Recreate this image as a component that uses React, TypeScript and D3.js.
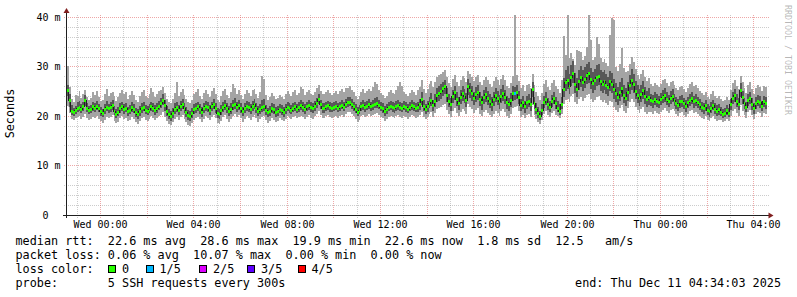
import React from 'react';
import * as d3 from 'd3';

// ---------------- data ----------------
const graphStart = Date.UTC(2025, 11, 9, 22, 34, 3);
const graphEnd = Date.UTC(2025, 11, 11, 4, 34, 3);
const firstSample = Date.UTC(2025, 11, 9, 22, 35, 0);
const stepSeconds = 300;

const rttMedian = [
  25.3, 23.3, 21.0, 20.8, 21.1, 21.6, 21.8, 21.4, 21.9, 23.2, 21.6, 21.2,
  21.4, 21.9, 21.5, 22.0, 21.6, 20.9, 20.6, 21.3, 21.8, 21.5, 21.7, 22.1,
  21.0, 20.4, 20.8, 21.5, 21.9, 21.3, 21.6, 20.9, 21.2, 21.7, 21.4, 20.7,
  20.3, 20.9, 21.5, 21.8, 21.2, 21.0, 21.4, 21.9, 21.6, 21.1, 21.5, 22.0,
  22.6, 23.3, 22.1, 21.0, 20.3, 19.9, 20.6, 21.4, 21.8, 21.2, 21.9, 22.3,
  21.5, 20.8, 20.1, 19.9, 20.5, 21.3, 21.6, 21.9, 21.4, 20.8, 21.5, 22.0,
  21.7, 21.2, 21.9, 22.3, 21.6, 20.6, 20.3, 21.1, 21.8, 22.2, 21.5, 20.9,
  21.4, 22.1, 22.4, 21.8, 22.2, 21.6, 20.9, 21.5, 22.0, 21.7, 21.3, 21.9,
  22.3, 21.6, 20.9, 21.4, 21.8, 22.0, 21.2, 20.7, 21.0, 21.6, 21.3, 20.8,
  20.9, 21.4, 21.1, 20.7, 21.3, 21.8, 21.5, 21.2, 21.6, 21.9, 21.4, 21.7,
  22.1, 21.8, 21.4, 21.9, 22.2, 21.7, 21.5, 22.0, 22.6, 23.4, 22.3, 21.6,
  21.5, 21.9, 22.1, 21.7, 21.6, 21.8, 22.0, 21.6, 21.9, 22.2, 21.8, 22.4,
  22.7, 22.8, 22.3, 21.9, 21.4, 20.8, 21.2, 21.9, 22.1, 21.7, 22.0, 22.3,
  21.9, 22.1, 22.4, 22.5, 22.2, 21.8, 21.5, 20.9, 21.3, 21.8, 22.0, 21.7,
  21.5, 21.9, 22.1, 21.8, 21.6, 22.0, 21.7, 21.4, 21.8, 22.1, 21.9, 21.6,
  21.8, 22.3, 23.5, 22.0, 21.3, 21.9, 22.6, 23.2, 22.1, 23.0, 24.2, 24.6,
  25.1, 25.6, 26.0, 24.3, 23.1, 22.4, 24.0, 24.8, 23.5, 22.6, 23.9, 24.7,
  24.1, 23.3, 26.0, 25.2, 24.7, 23.6, 24.5, 24.9, 23.4, 22.7, 23.8, 24.4,
  23.6, 23.0, 22.4, 23.5, 24.2, 23.7, 22.9, 24.1, 24.7, 23.8, 22.8, 22.3,
  23.2, 24.6, 24.6, 24.9, 23.8, 22.2, 22.7, 21.9, 22.8, 23.1, 22.3, 25.4,
  22.6, 21.4, 20.5, 19.9, 21.2, 22.7, 23.5, 22.4, 21.8, 22.9, 23.6, 22.5,
  21.6, 21.0, 22.3, 25.4, 26.8, 27.3, 26.1, 27.9, 28.6, 26.4, 25.5, 27.0,
  27.8, 26.9, 27.5, 28.3, 28.6, 27.4, 26.6, 27.2, 27.9, 28.1, 27.0, 26.5,
  27.1, 26.3, 25.9, 27.0, 26.5, 25.4, 24.6, 23.8, 24.9, 25.6, 24.2, 23.6,
  24.8, 26.2, 27.2, 26.4, 25.1, 24.3, 23.6, 24.5, 25.2, 24.0, 23.4, 23.9,
  23.2, 22.9, 23.5, 23.1, 22.8, 23.4, 23.9, 24.2, 23.5, 23.0, 23.7, 24.0,
  23.3, 22.6, 22.2, 22.9, 23.1, 22.5, 22.0, 22.7, 23.3, 23.6, 22.9, 23.2,
  22.8, 22.3, 21.8, 21.5, 22.1, 21.2, 20.9, 21.6, 22.2, 21.4, 21.0, 21.3,
  20.8, 20.4, 20.6, 21.1, 20.5, 22.3, 23.6, 24.2, 23.1, 22.4, 25.3, 23.8,
  22.5, 21.8, 23.2, 23.6, 22.4, 21.5, 22.6, 23.1, 22.8, 22.0, 22.9, 22.6,
];

const rttMin = [
  22.0, 20.6, 19.4, 19.2, 19.6, 19.8, 20.1, 19.5, 19.9, 20.4, 19.7, 19.3,
  19.5, 19.9, 19.6, 20.1, 19.4, 19.0, 18.7, 19.3, 19.8, 19.6, 19.9, 20.2,
  19.1, 18.6, 18.9, 19.6, 20.0, 19.4, 19.7, 19.0, 19.3, 19.8, 19.5, 18.8,
  18.5, 19.0, 19.6, 19.9, 19.3, 19.1, 19.5, 20.0, 19.7, 19.2, 19.6, 20.1,
  20.3, 20.9, 19.8, 19.0, 18.5, 18.2, 18.8, 19.5, 19.9, 19.3, 19.9, 20.3,
  19.5, 18.9, 18.3, 18.0, 18.6, 19.3, 19.6, 19.9, 19.4, 18.9, 19.5, 20.0,
  19.7, 19.2, 19.9, 20.3, 19.6, 18.7, 18.4, 19.1, 19.8, 20.2, 19.5, 18.9,
  19.4, 20.1, 20.4, 19.8, 20.2, 19.6, 18.9, 19.5, 20.0, 19.7, 19.3, 19.9,
  20.3, 19.6, 18.9, 19.4, 19.8, 20.0, 19.2, 18.7, 19.0, 19.6, 19.3, 18.8,
  19.1, 19.6, 19.3, 19.0, 19.5, 20.0, 19.7, 19.4, 19.8, 20.1, 19.6, 19.9,
  20.1, 19.8, 19.4, 19.9, 20.2, 19.7, 19.5, 20.0, 20.5, 21.1, 20.3, 19.6,
  19.6, 20.0, 20.2, 19.8, 19.7, 19.9, 20.1, 19.7, 20.0, 20.3, 19.9, 20.5,
  20.8, 20.9, 20.4, 20.0, 19.5, 18.9, 19.3, 20.0, 20.2, 19.8, 20.1, 20.4,
  20.0, 20.2, 20.5, 20.6, 20.3, 19.9, 19.6, 19.0, 19.4, 19.9, 20.1, 19.8,
  19.6, 20.0, 20.2, 19.9, 19.7, 20.1, 19.8, 19.5, 19.9, 20.2, 20.0, 19.7,
  19.8, 20.2, 20.9, 19.9, 19.4, 19.8, 20.4, 20.8, 19.9, 20.6, 21.4, 21.6,
  21.8, 22.2, 22.5, 21.2, 20.4, 19.9, 21.0, 21.6, 20.7, 20.0, 20.9, 21.5,
  21.0, 20.5, 22.5, 21.9, 21.4, 20.6, 21.3, 21.7, 20.5, 20.0, 20.8, 21.2,
  20.6, 20.2, 19.8, 20.5, 21.1, 20.7, 20.1, 21.0, 21.5, 20.8, 20.0, 19.7,
  20.4, 21.7, 21.9, 22.0, 21.0, 19.8, 20.2, 19.6, 20.3, 20.5, 19.9, 22.3,
  20.2, 19.5, 18.9, 18.5, 19.3, 20.4, 21.0, 20.2, 19.8, 20.6, 21.1, 20.3,
  20.0, 19.6, 20.5, 22.4, 23.3, 23.6, 22.8, 24.1, 24.5, 23.0, 22.4, 23.5,
  24.0, 23.2, 23.7, 24.4, 24.6, 23.6, 22.9, 23.4, 24.0, 24.2, 23.3, 22.8,
  23.4, 22.7, 22.3, 23.2, 22.8, 21.9, 21.3, 20.8, 21.6, 22.2, 21.0, 20.6,
  21.6, 22.8, 23.6, 22.9, 21.9, 21.2, 20.6, 21.4, 21.9, 20.9, 20.4, 20.8,
  20.8, 20.5, 21.0, 20.7, 20.4, 20.9, 21.3, 21.6, 21.0, 20.6, 21.2, 21.4,
  21.0, 20.4, 20.0, 20.6, 20.8, 20.3, 19.8, 20.5, 21.0, 21.2, 20.6, 20.9,
  20.5, 20.1, 19.7, 19.4, 20.0, 19.2, 19.0, 19.6, 20.1, 19.4, 19.1, 19.3,
  19.2, 18.9, 19.1, 19.5, 19.0, 20.1, 21.0, 21.5, 20.6, 20.0, 22.2, 21.1,
  20.3, 19.7, 20.9, 21.2, 20.2, 19.5, 20.4, 20.9, 20.6, 19.9, 20.7, 20.5,
];

const rttLow = [
  24.1, 21.9, 20.3, 20.1, 20.5, 20.9, 21.0, 20.6, 21.1, 22.0, 20.8, 20.4,
  20.7, 21.0, 20.8, 21.2, 20.9, 20.1, 19.8, 20.5, 21.0, 20.7, 20.9, 21.3,
  20.2, 19.6, 20.0, 20.7, 21.1, 20.5, 20.8, 20.1, 20.4, 20.9, 20.6, 19.9,
  19.5, 20.1, 20.7, 21.0, 20.4, 20.2, 20.6, 21.1, 20.8, 20.3, 20.7, 21.2,
  21.6, 22.2, 21.1, 20.1, 19.4, 19.0, 19.7, 20.5, 20.9, 20.3, 21.0, 21.4,
  20.6, 19.9, 19.2, 19.0, 19.6, 20.4, 20.7, 21.0, 20.5, 19.9, 20.6, 21.1,
  20.8, 20.3, 21.0, 21.4, 20.7, 19.7, 19.4, 20.2, 20.9, 21.3, 20.6, 20.0,
  20.5, 21.2, 21.5, 20.9, 21.3, 20.7, 20.0, 20.6, 21.1, 20.8, 20.4, 21.0,
  21.4, 20.7, 20.0, 20.5, 20.9, 21.1, 20.3, 19.8, 20.1, 20.7, 20.4, 19.9,
  20.1, 20.6, 20.3, 19.9, 20.5, 21.0, 20.7, 20.4, 20.8, 21.1, 20.6, 20.9,
  21.2, 20.9, 20.5, 21.0, 21.3, 20.8, 20.6, 21.1, 21.7, 22.4, 21.4, 20.7,
  20.7, 21.1, 21.3, 20.9, 20.8, 21.0, 21.2, 20.8, 21.1, 21.4, 21.0, 21.6,
  21.9, 22.0, 21.5, 21.1, 20.6, 20.0, 20.4, 21.1, 21.3, 20.9, 21.2, 21.5,
  21.1, 21.3, 21.6, 21.7, 21.4, 21.0, 20.7, 20.1, 20.5, 21.0, 21.2, 20.9,
  20.7, 21.1, 21.3, 21.0, 20.8, 21.2, 20.9, 20.6, 21.0, 21.3, 21.1, 20.8,
  20.9, 21.3, 22.3, 21.0, 20.4, 20.9, 21.6, 22.0, 21.0, 21.9, 23.0, 23.2,
  23.6, 24.1, 24.5, 22.8, 21.8, 21.1, 22.6, 23.3, 22.1, 21.3, 22.5, 23.2,
  22.6, 21.9, 24.4, 23.7, 23.2, 22.2, 23.0, 23.4, 22.0, 21.3, 22.4, 23.0,
  22.2, 21.6, 21.1, 22.1, 22.8, 22.3, 21.5, 22.7, 23.2, 22.4, 21.4, 21.0,
  21.8, 23.2, 23.3, 23.5, 22.4, 21.0, 21.4, 20.7, 21.5, 21.8, 21.1, 24.0,
  21.5, 20.5, 19.7, 19.2, 20.3, 21.6, 22.3, 21.3, 20.8, 21.8, 22.4, 21.4,
  20.8, 20.3, 21.4, 24.0, 25.2, 25.6, 24.5, 26.2, 26.8, 24.8, 24.0, 25.4,
  26.0, 25.1, 25.7, 26.5, 26.8, 25.6, 24.8, 25.4, 26.1, 26.3, 25.2, 24.7,
  25.3, 24.5, 24.1, 25.1, 24.7, 23.6, 22.9, 22.2, 23.2, 23.9, 22.6, 22.0,
  23.2, 24.5, 25.4, 24.7, 23.5, 22.7, 22.1, 22.9, 23.5, 22.4, 21.9, 22.3,
  22.0, 21.7, 22.3, 21.9, 21.6, 22.2, 22.7, 23.0, 22.3, 21.8, 22.5, 22.8,
  22.1, 21.5, 21.1, 21.7, 21.9, 21.4, 20.9, 21.6, 22.1, 22.4, 21.7, 22.0,
  21.7, 21.2, 20.8, 20.5, 21.1, 20.2, 19.9, 20.6, 21.2, 20.4, 20.0, 20.3,
  20.0, 19.7, 19.9, 20.3, 19.8, 21.2, 22.4, 22.9, 21.9, 21.2, 23.9, 22.5,
  21.4, 20.8, 22.1, 22.5, 21.3, 20.5, 21.5, 22.0, 21.7, 21.0, 21.8, 21.5,
];

const rttHigh = [
  26.4, 24.5, 22.3, 21.7, 22.0, 22.8, 23.1, 22.4, 23.0, 24.3, 22.6, 22.1,
  22.3, 23.0, 22.6, 23.2, 22.5, 21.8, 21.5, 22.4, 23.1, 22.4, 22.8, 23.3,
  22.0, 21.5, 21.9, 22.6, 23.0, 22.4, 22.7, 21.8, 22.3, 22.9, 22.5, 21.7,
  21.4, 22.0, 22.6, 22.9, 22.3, 22.1, 22.5, 23.0, 22.7, 22.2, 22.6, 23.1,
  23.8, 24.6, 23.3, 22.1, 21.4, 21.0, 21.7, 22.6, 23.0, 22.3, 23.1, 23.6,
  22.6, 21.9, 21.2, 21.0, 21.6, 22.4, 22.7, 23.0, 22.5, 21.9, 22.6, 23.1,
  22.8, 22.3, 23.0, 23.5, 22.7, 21.7, 21.4, 22.2, 22.9, 23.4, 22.6, 22.0,
  22.6, 23.4, 23.7, 22.9, 23.4, 22.7, 21.9, 22.6, 23.2, 22.8, 22.4, 23.1,
  23.5, 22.7, 22.0, 22.5, 23.3, 23.6, 22.3, 21.7, 22.1, 22.7, 22.4, 21.9,
  22.0, 22.5, 22.2, 21.8, 22.4, 22.9, 22.6, 22.3, 22.7, 23.0, 22.5, 22.8,
  23.3, 22.9, 22.5, 23.0, 23.3, 22.8, 22.6, 23.1, 23.8, 24.6, 23.4, 22.7,
  22.6, 23.0, 23.2, 22.8, 22.7, 22.9, 23.1, 22.7, 23.0, 23.3, 22.9, 23.6,
  23.9, 24.0, 23.5, 23.0, 22.5, 21.9, 22.3, 23.0, 23.3, 22.8, 23.2, 23.5,
  23.0, 23.3, 23.8, 24.0, 23.4, 22.9, 22.6, 22.0, 22.4, 22.9, 23.1, 22.8,
  22.6, 23.1, 23.4, 22.9, 22.7, 23.2, 22.8, 22.5, 22.9, 23.3, 23.0, 22.7,
  23.0, 23.6, 25.0, 23.3, 22.5, 23.1, 24.0, 24.7, 23.4, 24.5, 25.7, 26.1,
  26.5, 27.0, 27.4, 25.8, 24.5, 23.8, 25.4, 26.2, 24.9, 24.0, 25.3, 26.1,
  25.6, 24.8, 27.5, 26.7, 26.1, 25.0, 26.0, 26.4, 24.9, 24.1, 25.3, 25.9,
  25.1, 24.5, 23.9, 25.0, 25.7, 25.2, 24.4, 25.6, 26.3, 25.3, 24.2, 23.7,
  24.7, 26.1, 26.0, 26.4, 25.2, 23.6, 24.1, 23.2, 24.2, 24.5, 23.7, 26.9,
  24.0, 22.7, 21.8, 21.1, 22.5, 24.1, 24.9, 23.7, 23.1, 24.3, 25.0, 23.9,
  23.2, 22.5, 24.0, 27.8, 29.4, 30.1, 28.5, 30.4, 31.2, 28.8, 27.7, 29.4,
  30.2, 29.3, 29.9, 30.6, 31.0, 29.8, 29.0, 29.6, 30.3, 30.5, 29.4, 28.9,
  29.4, 28.5, 28.0, 29.2, 28.7, 27.5, 26.7, 25.9, 27.0, 27.8, 26.3, 25.7,
  26.9, 28.4, 29.5, 28.6, 27.2, 26.3, 25.5, 26.4, 27.2, 25.9, 25.2, 25.8,
  24.6, 24.3, 24.9, 24.5, 24.2, 24.8, 25.4, 25.7, 24.9, 24.4, 25.1, 25.5,
  24.6, 23.9, 23.5, 24.2, 24.4, 23.8, 23.3, 24.0, 24.6, 24.9, 24.2, 24.5,
  24.0, 23.5, 23.0, 22.7, 23.3, 22.4, 22.0, 22.8, 23.4, 22.6, 22.2, 22.5,
  21.9, 21.5, 21.7, 22.3, 21.6, 23.6, 25.0, 25.6, 24.5, 23.8, 26.7, 25.2,
  23.8, 23.0, 24.5, 25.0, 23.7, 22.7, 23.9, 24.4, 24.1, 23.2, 24.2, 23.9,
];

const rttMax = [
  30.1, 26.0, 23.6, 23.0, 24.4, 24.1, 25.2, 23.7, 24.5, 25.4, 23.9, 23.4,
  23.8, 24.9, 24.3, 25.1, 24.0, 23.2, 23.4, 24.5, 25.6, 24.1, 24.7, 24.9,
  24.2, 23.1, 24.0, 24.8, 25.3, 24.6, 25.0, 23.5, 24.3, 25.1, 24.4, 23.3,
  23.0, 24.1, 25.0, 25.4, 24.2, 23.8, 24.6, 25.7, 24.9, 23.9, 24.5, 25.2,
  25.4, 26.0, 24.8, 23.6, 22.9, 22.6, 23.5, 24.7, 26.9, 24.2, 25.0, 25.5,
  24.3, 23.5, 22.9, 22.7, 23.4, 24.6, 24.9, 25.5, 24.2, 23.6, 24.8, 25.3,
  24.6, 24.0, 25.2, 25.8, 24.5, 23.4, 23.0, 24.2, 25.1, 25.6, 24.4, 23.7,
  25.0, 26.6, 25.8, 24.6, 25.3, 24.4, 23.6, 24.5, 25.4, 24.8, 24.1, 25.3,
  25.6, 24.5, 23.8, 25.0, 28.1, 27.6, 24.3, 23.4, 24.0, 24.8, 24.2, 23.5,
  23.8, 24.4, 24.0, 23.6, 24.5, 25.2, 24.6, 24.1, 24.9, 25.4, 24.3, 24.8,
  26.0, 25.6, 24.4, 24.9, 25.3, 24.6, 24.3, 25.0, 25.8, 26.4, 25.1, 24.5,
  24.5, 25.0, 25.3, 24.7, 24.4, 24.8, 25.2, 24.6, 25.1, 25.5, 24.9, 25.8,
  25.8, 26.1, 25.4, 24.9, 24.2, 23.6, 24.1, 25.0, 25.5, 24.7, 25.2, 25.6,
  25.1, 25.9, 27.0, 26.6, 25.4, 24.8, 24.3, 23.7, 24.2, 24.9, 25.3, 24.7,
  24.6, 25.4, 26.2, 27.0, 26.1, 25.0, 24.5, 24.1, 24.7, 25.3, 24.9, 24.4,
  25.3, 26.0, 27.4, 25.6, 24.8, 25.5, 26.5, 27.2, 25.9, 27.0, 28.0, 28.4,
  28.6, 29.0, 29.3, 27.9, 26.8, 26.0, 27.5, 28.3, 27.0, 26.2, 27.4, 28.2,
  27.8, 27.0, 29.2, 28.6, 28.0, 27.1, 27.9, 28.4, 27.0, 26.3, 27.3, 28.0,
  27.4, 26.6, 26.0, 27.2, 27.9, 27.3, 26.4, 27.6, 28.3, 27.4, 26.2, 25.8,
  26.8, 28.2, 40.6, 28.4, 27.2, 25.7, 26.3, 25.2, 26.4, 26.6, 25.8, 28.6,
  26.3, 25.0, 24.1, 23.4, 24.8, 26.5, 27.3, 26.0, 25.4, 26.7, 27.4, 26.2,
  25.6, 24.8, 27.3, 36.2, 32.5, 40.6, 31.8, 32.9, 31.6, 30.4, 33.5, 33.2,
  33.0, 31.5, 32.2, 34.0, 40.6, 35.5, 31.4, 32.1, 36.0, 34.6, 31.8, 31.0,
  31.6, 30.8, 30.2, 36.5, 40.0, 39.6, 30.0, 29.1, 30.5, 33.8, 29.8, 28.9,
  29.2, 30.6, 32.0, 31.0, 29.5, 28.4, 27.6, 28.5, 29.3, 27.9, 27.2, 27.8,
  26.5, 26.1, 26.8, 26.3, 25.9, 26.6, 27.3, 27.5, 26.8, 26.2, 27.0, 27.2,
  26.4, 25.8, 25.3, 26.0, 26.2, 25.6, 25.0, 25.8, 26.5, 26.9, 26.1, 26.4,
  25.8, 25.2, 24.7, 24.3, 25.0, 24.0, 23.6, 24.5, 25.1, 24.2, 23.8, 24.1,
  23.6, 23.1, 23.4, 24.0, 23.3, 25.4, 26.8, 27.3, 26.2, 25.5, 28.2, 26.9,
  25.7, 24.8, 26.4, 26.9, 25.5, 24.5, 25.8, 26.3, 26.0, 25.1, 26.1, 25.9,
];

// samples where pings were lost (index into the arrays above, number lost)
const lossSampleIndex = [230];
const lossSampleCount = [1];

const yTickValues = [0, 10, 20, 30, 40];
const yTickLabels = ['0  ', '10 m', '20 m', '30 m', '40 m'];
const yMinorStep = 2;
const yMax = 40.53;

const xTickTimes = [
  Date.UTC(2025, 11, 10, 0), Date.UTC(2025, 11, 10, 4), Date.UTC(2025, 11, 10, 8),
  Date.UTC(2025, 11, 10, 12), Date.UTC(2025, 11, 10, 16), Date.UTC(2025, 11, 10, 20),
  Date.UTC(2025, 11, 11, 0), Date.UTC(2025, 11, 11, 4),
];
const xTickLabels = ['Wed 00:00', 'Wed 04:00', 'Wed 08:00', 'Wed 12:00', 'Wed 16:00', 'Wed 20:00', 'Thu 00:00', 'Thu 04:00'];

const lossLevelLabels = ['0', '1/5', '2/5', '3/5', '4/5'];
const lossLevelColors = ['#26ff00', '#00b8ff', '#dd00ff', '#5e00ff', '#ff0000'];

const legendRtt = 'median rtt:  22.6 ms avg  28.6 ms max  19.9 ms min  22.6 ms now  1.8 ms sd  12.5   am/s';
const legendLoss = 'packet loss: 0.06 % avg  10.07 % max  0.00 % min  0.00 % now';
const legendLossColor = 'loss color:';
const legendProbe = 'probe:       5 SSH requests every 300s';
const legendEnd = 'end: Thu Dec 11 04:34:03 2025';
const yAxisTitle = 'Seconds';
const watermark = 'RRDTOOL / TOBI OETIKER';

// ---------------- layout ----------------
const W = 797;
const H = 297;
const PL = 66.5, PR = 766.5, PT = 15, PB = 215;
const MONO = '"DejaVu Sans Mono", monospace';
const LEG_FS = 11.8;
const AX_FS = 10;
const legendBoxX = [108.5, 146, 199.5, 247.5, 298];

export default function App() {
  const x = d3.scaleUtc().domain([new Date(graphStart), new Date(graphEnd)]).range([PL, PR]);
  const y = d3.scaleLinear().domain([0, yMax]).range([PB, PT]);
  const n = rttMedian.length;
  const lossOf = (i: number) => {
    const k = lossSampleIndex.indexOf(i);
    return k >= 0 ? lossSampleCount[k] : 0;
  };

  type P = { t: Date; k: number };
  const pts: P[] = d3.range(n + 1).map((i) => ({
    t: new Date(firstSample + i * stepSeconds * 1000),
    k: Math.min(i, n - 1),
  }));

  const outer = d3.area<P>().x((d) => x(d.t)).y0((d) => y(rttMin[d.k])).y1((d) => y(rttMax[d.k])).curve(d3.curveStepAfter);
  const inner = d3.area<P>().x((d) => x(d.t)).y0((d) => y(rttLow[d.k])).y1((d) => y(rttHigh[d.k])).curve(d3.curveStepAfter);
  const medLine = d3.line<P>().x((d) => x(d.t)).y((d) => y(rttMedian[d.k])).curve(d3.curveStepAfter);

  const hours = d3.utcHour.range(new Date(graphStart), new Date(graphEnd));
  const yMinor = d3.range(0, yMax, yMinorStep);

  const gx = (t: Date | number) => Math.round(x(t as any)) + 0.5;
  const gy = (v: number) => Math.floor(y(v)) + 0.5;
  const pre = { whiteSpace: 'pre' as const };

  return (
    <svg width={W} height={H} style={{ position: 'absolute', left: 0, top: 0, background: '#fff' }} fontFamily={MONO}>
      <defs>
        <clipPath id="plotClip">
          <rect x={PL + 0.5} y={PT} width={PR - PL} height={PB - PT} />
        </clipPath>
      </defs>
      <rect x={0} y={0} width={W} height={H} fill="#ffffff" />

      {/* grid */}
      <g shapeRendering="crispEdges" strokeDasharray="1,1">
        {yMinor.map((v) =>
          v % 10 === 0 ? null : (
            <line key={'hy' + v} x1={PL - 3} x2={PR + 2} y1={gy(v)} y2={gy(v)} stroke="#8f8f8f" strokeOpacity={0.45} />
          )
        )}
        {hours.map((h) =>
          h.getUTCHours() % 2 === 0 ? null : (
            <line key={'vx' + +h} x1={gx(h)} x2={gx(h)} y1={PT} y2={PB + 3} stroke="#8f8f8f" strokeOpacity={0.45} />
          )
        )}
        {yTickValues.map((v) =>
          v === 0 ? null : (
            <line key={'my' + v} x1={PL - 3} x2={PR + 2} y1={gy(v)} y2={gy(v)} stroke="#de4f4f" strokeOpacity={0.5} />
          )
        )}
        {hours.map((h) =>
          h.getUTCHours() % 2 !== 0 ? null : (
            <line key={'mx' + +h} x1={gx(h)} x2={gx(h)} y1={PT} y2={PB + 3} stroke="#de4f4f" strokeOpacity={0.5} />
          )
        )}
      </g>

      {/* smoke + median */}
      <g clipPath="url(#plotClip)">
        <path d={outer(pts) || ''} fill="#a4a4a4" shapeRendering="crispEdges" />
        <path d={inner(pts) || ''} fill="#585858" shapeRendering="crispEdges" />
        <path d={medLine(pts) || ''} fill="none" stroke="#202020" strokeWidth={1} shapeRendering="crispEdges" />
        {rttMedian.map((m, i) => {
          const x0 = Math.round(x(pts[i].t));
          const x1 = Math.round(x(pts[i + 1].t));
          const yc = Math.round(y(m) - 1.5);
          return (
            <rect
              key={'m' + i}
              x={x0}
              width={Math.max(1, x1 - x0)}
              y={yc}
              height={3}
              fill={lossLevelColors[lossOf(i)]}
              shapeRendering="crispEdges"
            />
          );
        })}
      </g>

      {/* axes */}
      <g shapeRendering="crispEdges" stroke="#1f1f1f">
        <line x1={PL - 4} x2={PR + 4} y1={PB + 0.5} y2={PB + 0.5} />
        <line x1={PL} x2={PL} y1={PB + 3} y2={PT - 3} />
      </g>
      <path d={`M${PL},${PT - 7}L${PL - 3},${PT - 2}L${PL + 3},${PT - 2}Z`} fill="#801f1f" />
      <path d={`M${PR + 7},${PB + 0.5}L${PR + 2},${PB - 2.5}L${PR + 2},${PB + 3.5}Z`} fill="#801f1f" />

      {/* y tick labels */}
      {yTickValues.map((v, i) => (
        <text key={'yl' + v} x={60.5} y={gy(v) + 3.6} fontSize={AX_FS} textAnchor="end" fill="#000" xmlSpace="preserve" style={pre}>
          {yTickLabels[i]}
        </text>
      ))}
      {/* x tick labels */}
      {xTickTimes.map((t, i) => (
        <text key={'xl' + t} x={gx(t)} y={227.5} fontSize={AX_FS} textAnchor="middle" fill="#000">
          {xTickLabels[i]}
        </text>
      ))}

      {/* y axis title */}
      <text transform="translate(14,113.5) rotate(-90)" fontSize={LEG_FS} textAnchor="middle" fill="#000">
        {yAxisTitle}
      </text>

      {/* watermark */}
      <text transform="translate(785,5) rotate(90)" fontSize={8.3} fill="#000" fillOpacity={0.3}>
        {watermark}
      </text>

      {/* legend */}
      <g fontSize={LEG_FS} fill="#000">
        <text x={15.5} y={245} xmlSpace="preserve" style={pre}>{legendRtt}</text>
        <text x={15.5} y={259} xmlSpace="preserve" style={pre}>{legendLoss}</text>
        <text x={15.5} y={273} xmlSpace="preserve" style={pre}>{legendLossColor}</text>
        {lossLevelLabels.map((lab, i) => (
          <g key={'lc' + i}>
            <rect x={legendBoxX[i]} y={265.5} width={7} height={7} fill={lossLevelColors[i]} stroke="#000" strokeWidth={1} shapeRendering="crispEdges" />
            <text x={legendBoxX[i] + 13.5} y={273}>{lab}</text>
          </g>
        ))}
        <text x={15.5} y={287} xmlSpace="preserve" style={pre}>{legendProbe}</text>
        <text x={781} y={287} textAnchor="end" xmlSpace="preserve" style={pre}>{legendEnd}</text>
      </g>
    </svg>
  );
}
